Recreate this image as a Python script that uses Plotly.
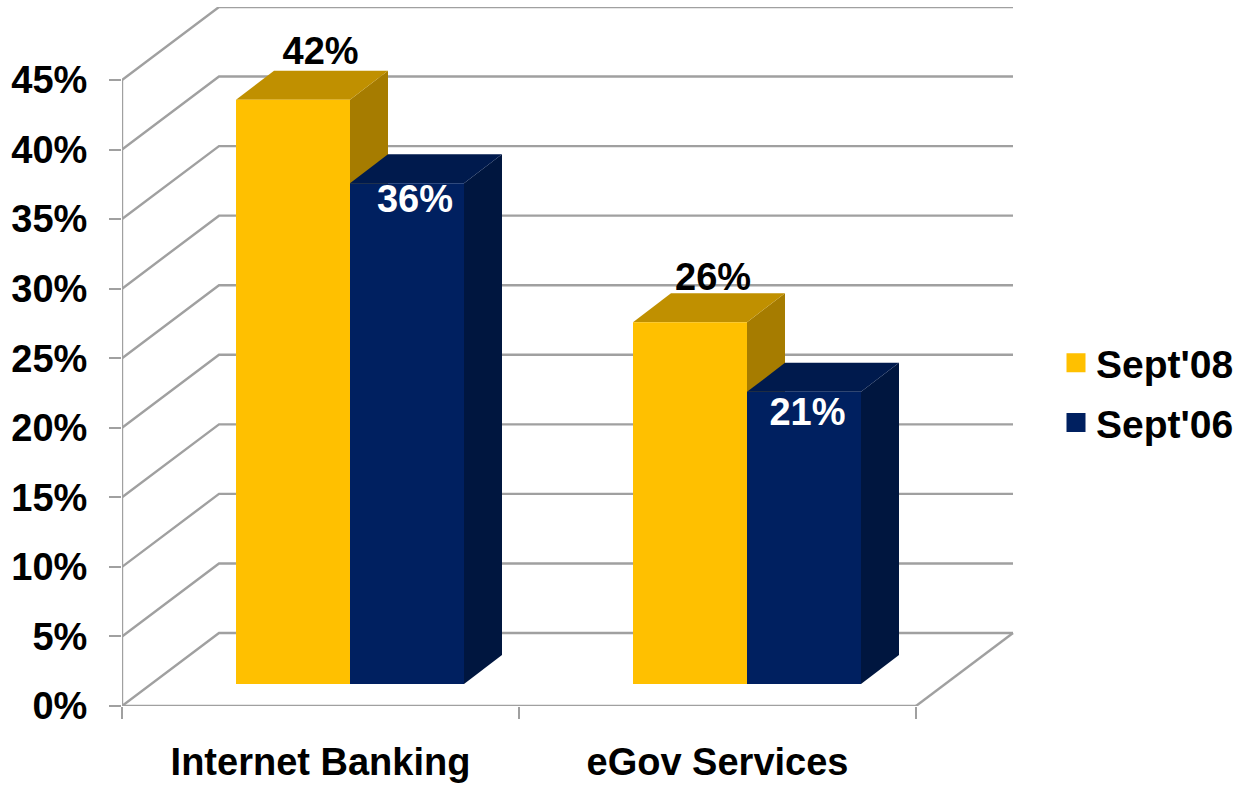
import plotly.graph_objects as go

# Survey results by service and wave
categories = ["Internet Banking", "eGov Services"]
series_names = ["Sept'08", "Sept'06"]
sept08 = [42, 26]
sept06 = [36, 21]
y_ticks = [0, 5, 10, 15, 20, 25, 30, 35, 40, 45]

# Figure geometry (pixels)
W, H = 1239, 785
LEFT, RIGHT, TOP, BOTTOM = 122, 1014, 7, 706
PX_PER_CAT = 397.0
PX_PER_PCT = 626.0 / 45

# Oblique projection helpers: pixels expressed in axis units
ux = lambda px: px / PX_PER_CAT
uy = lambda px: px / PX_PER_PCT

WALL_DX, WALL_DY = ux(97), uy(73)       # depth of the chart box
BAR_DX, BAR_DY = ux(38), uy(29)         # depth of each bar
BASE_DX, BASE = ux(29.5), uy(22)        # front edge of bars sits inside the floor
BAR_W = ux(114)

GRID = "#a0a0a0"
LINE_W = 2.4
FRONT = ["#ffc000", "#002060"]
TOPS = ["#c09000", "#001a4d"]
SIDES = ["#a67c00", "#00163f"]
INK = "black"
FONT = "Liberation Sans, Arial, sans-serif"
TEXT_SIZE = 38

fig = go.Figure()

# Box wall lines: left-wall diagonals and back-wall horizontals, one per tick
wall_x, wall_y = [], []
for t in y_ticks:
    wall_x += [0, WALL_DX, 2 + WALL_DX, None]
    wall_y += [t, t + WALL_DY, t + WALL_DY, None]
# Right edge of the floor
wall_x += [2, 2 + WALL_DX, None]
wall_y += [0, WALL_DY, None]
fig.add_trace(go.Scatter(x=wall_x, y=wall_y, mode="lines", showlegend=False, hoverinfo="skip",
                         line=dict(color=GRID, width=LINE_W)))

# Axis spines stop at the tick range
fig.add_trace(go.Scatter(x=[0, 0, 2], y=[45, 0, 0], mode="lines", showlegend=False, hoverinfo="skip",
                         line=dict(color=GRID, width=LINE_W), cliponaxis=False))

centers = [0.5, 1.5]
offsets = [-BAR_W / 2, BAR_W / 2]
values = [sept08, sept06]


def face(xs, ys, color):
    fig.add_trace(go.Scatter(x=xs, y=ys, mode="lines", fill="toself", fillcolor=color,
                             line=dict(color=color, width=0), showlegend=False, hoverinfo="skip"))


# Side and top faces; Sept'06 goes over Sept'08 since it stands in front of that side face
for s in (0, 1):
    for c, v in zip(centers, values[s]):
        x0 = c + BASE_DX + offsets[s] - BAR_W / 2
        x1 = x0 + BAR_W
        top = BASE + v
        face([x1, x1 + BAR_DX, x1 + BAR_DX, x1, x1],
             [BASE, BASE + BAR_DY, top + BAR_DY, top, BASE], SIDES[s])
        face([x0, x1, x1 + BAR_DX, x0 + BAR_DX, x0],
             [top, top, top + BAR_DY, top + BAR_DY, top], TOPS[s])

# Front faces of the bars live on an overlaid axis pair so they cover the faces above
for s in (0, 1):
    fig.add_trace(go.Bar(x=[c + BASE_DX + offsets[s] for c in centers], y=values[s], base=BASE,
                         width=BAR_W, marker=dict(color=FRONT[s], line=dict(width=0)),
                         name=series_names[s], showlegend=False, xaxis="x2", yaxis="y2"))

# Value labels, placed relative to the top of their bars
label_nudge = [ux(1), ux(-3.5)]
above_px = [45.5, 41.5]
below_px = [19, 24]
fig.add_trace(go.Scatter(
    x=[c + BASE_DX + offsets[0] + BAR_DX * 0.7 + n for c, n in zip(centers, label_nudge)],
    y=[BASE + v + uy(a) for v, a in zip(sept08, above_px)],
    text=[f"<b>{v}%</b>" for v in sept08], mode="text", showlegend=False, hoverinfo="skip",
    textfont=dict(family=FONT, size=TEXT_SIZE, color=INK), cliponaxis=False,
    xaxis="x2", yaxis="y2"))
fig.add_trace(go.Scatter(
    x=[c + BASE_DX + offsets[1] + ux(7) + n for c, n in zip(centers, label_nudge)],
    y=[BASE + v - uy(b) for v, b in zip(sept06, below_px)],
    text=[f"<b>{v}%</b>" for v in sept06], mode="text", showlegend=False, hoverinfo="skip",
    textfont=dict(family=FONT, size=TEXT_SIZE, color="white"), cliponaxis=False,
    xaxis="x2", yaxis="y2"))

# Legend keys
for s in (0, 1):
    fig.add_trace(go.Scatter(x=[None], y=[None], mode="markers", name=f"<b>{series_names[s]}</b>",
                             legendgroup=series_names[s],
                             marker=dict(symbol="square", size=16, color=FRONT[s],
                                         line=dict(color=FRONT[s], width=3))))

x_range = [0, (RIGHT - LEFT) / PX_PER_CAT]
y_range = [0, (BOTTOM - TOP) / PX_PER_PCT]

fig.update_layout(
    width=W, height=H, autosize=False,
    margin=dict(l=LEFT, r=W - RIGHT, t=TOP, b=H - BOTTOM, autoexpand=False),
    paper_bgcolor="white", plot_bgcolor="white",
    barmode="overlay",
    font=dict(family=FONT, color=INK),
    legend=dict(x=(1056 - LEFT) / (RIGHT - LEFT), y=(H - 331 - (H - BOTTOM)) / (BOTTOM - TOP),
                xanchor="left", yanchor="top", tracegroupgap=6,
                bgcolor="rgba(0,0,0,0)", font=dict(family=FONT, size=39, color=INK)),
    xaxis=dict(range=x_range, tickmode="array", tickvals=centers,
               ticktext=[f"<b>{c}</b>" for c in categories], ticks="", showgrid=False,
               zeroline=False, showline=False, tickfont=dict(family=FONT, size=TEXT_SIZE, color=INK),
               ticklabelstandoff=30,
               minor=dict(tickmode="array", tickvals=[0, 1, 2], ticks="outside", ticklen=12,
                          tickcolor=GRID, tickwidth=LINE_W, showgrid=False)),
    yaxis=dict(range=y_range, tickmode="array", tickvals=y_ticks,
               ticktext=[f"<b>{t}%</b>" for t in y_ticks], ticks="outside", ticklen=12,
               tickcolor=GRID, tickwidth=LINE_W, showgrid=False, zeroline=False, showline=False,
               tickfont=dict(family=FONT, size=TEXT_SIZE, color=INK), ticklabelstandoff=14),
    xaxis2=dict(range=x_range, overlaying="x", visible=False),
    yaxis2=dict(range=y_range, overlaying="y", visible=False),
    showlegend=True,
)

fig.write_html("out.html")
